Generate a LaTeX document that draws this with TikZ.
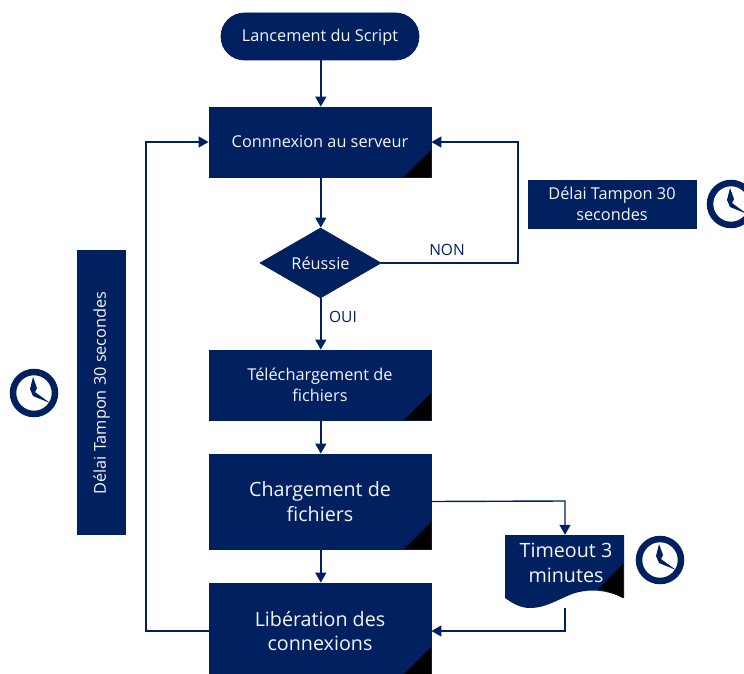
\documentclass[tikz,border=0pt]{standalone}
\usepackage{fontspec}
\setmainfont{Open Sans}
\usetikzlibrary{arrows.meta,shapes.geometric,calc}
\definecolor{navy}{HTML}{002060}
\definecolor{paper}{HTML}{F4F6FA}
\tikzset{
  base/.style={fill=navy,draw=navy,line width=0.8pt,text=paper,align=center,inner sep=0pt},
  procbox/.style={base,minimum width=222pt,minimum height=#1},
  flow/.style={draw=navy,line width=1.4pt,-{Triangle[length=10pt,width=11pt]}},
  small/.style={font=\fontsize{16.3}{20.5}\selectfont},
  medium/.style={font=\fontsize{19.7}{24.5}\selectfont},
  lab/.style={text=navy,font=\fontsize{15.5}{17}\selectfont,inner sep=0pt},
}
\newcommand{\clockicon}[2]{%
  \begin{scope}[shift={(#1,#2)}]
    \draw[navy,line width=6.5pt] (0,0) circle (21pt);
    \fill[navy] (-1,-16) -- (3,-5) -- (1,-1) -- (16,10) -- (-1,3) -- (-4,-4) -- cycle;
  \end{scope}}
\newcommand{\cornerfold}[2]{%
  \fill[black] (#1,#2) -- ($(#1,#2)+(-27,0)$) -- ($(#1,#2)+(0,-27)$) -- cycle;}
\begin{document}
\begin{tikzpicture}[x=1pt,y=-1pt]
\useasboundingbox (0,0) rectangle (744,674);
\node[base,rounded corners=23.5pt,minimum width=198pt,minimum height=47pt] (start) at (320,36.5) {};
\node[small,text=paper,inner sep=0pt] (starttxt) at (320,37.5) {Lancement du Script};
\node[procbox=70pt,small] (conn) at (320,142) {Connnexion au serveur};
\node[base,small,diamond,minimum width=121pt,minimum height=70pt,aspect=1.73] (ok) at (320.5,263) {};
\node[small,text=paper,inner sep=0pt] (oktxt) at (320.5,263.5) {Réussie};
\node[procbox=70pt,small] (tele) at (320,385) {Téléchargement de\\fichiers};
\node[procbox=95pt,medium] (charg) at (320,501.5) {Chargement de\\fichiers};
\node[procbox=96pt,medium] (lib) at (320,631) {Libération des\\connexions};
\node[base,small,minimum width=168pt,minimum height=48pt] (delaiR) at (612,204) {Délai Tampon 30\\secondes};
\node[base,minimum width=48.5pt,minimum height=284.5pt] (delaiL) at (101.5,392.5) {};
\node[small,text=paper,rotate=90,inner sep=0pt] (delaiLt) at (101.5,393) {Délai Tampon 30 secondes};
\node[inner sep=0pt,minimum width=119pt,minimum height=73pt] (tmo) at (564.5,571.5) {};
\coordinate (nonturnb) at (518,263);
\coordinate (nonturnt) at (518,142);
\coordinate (libturn) at (146,631);
\coordinate (connturn) at (146,142);
\coordinate (chargturn) at (565,501);
\coordinate (tmoturn) at (565,631);
\draw[flow] ([xshift=.8pt]start.south) -- ([xshift=.8pt]conn.north);
\draw[flow] ([xshift=.8pt]conn.south) -- ([xshift=.3pt]ok.north);
\draw[flow] ([xshift=.3pt]ok.south) -- ([xshift=.8pt]tele.north);
\draw[flow] ([xshift=.8pt]tele.south) -- ([xshift=.8pt]charg.north);
\draw[flow] ([xshift=.8pt]charg.south) -- ([xshift=.8pt]lib.north);
\draw[flow] (ok.east) -- (nonturnb) -- (nonturnt) -- (conn.east);
\draw[flow] (lib.west) -- (libturn) -- (connturn) -- (conn.west);
\draw[flow] (charg.east) -- (chargturn) -- (tmo.north -| chargturn);
\draw[flow] (tmo.south -| tmoturn) -- (tmoturn) -- (lib.east);
\fill[navy] (505,535) -- (624,535) -- (624,598) .. controls (606,590) and (590,588) .. (572,594) .. controls (555,601) and (545,608) .. (530,608) .. controls (520,608) and (512,603) .. (505,598) -- cycle;
\fill[black] (598,589) -- (623,564) -- (623,598) .. controls (615,594) and (606,590) .. cycle;
\node[medium,text=paper,align=center,inner sep=0pt] (tmot) at (566,563) {Timeout 3\\minutes};
\cornerfold{431}{177}
\cornerfold{431}{420}
\cornerfold{431}{549}
\cornerfold{431}{674}
\node[lab] (non) at (447,250) {NON};
\node[lab] (oui) at (343,317) {OUI};
\clockicon{660}{560}
\clockicon{731}{204}
\clockicon{34}{393}
\end{tikzpicture}
\end{document}
